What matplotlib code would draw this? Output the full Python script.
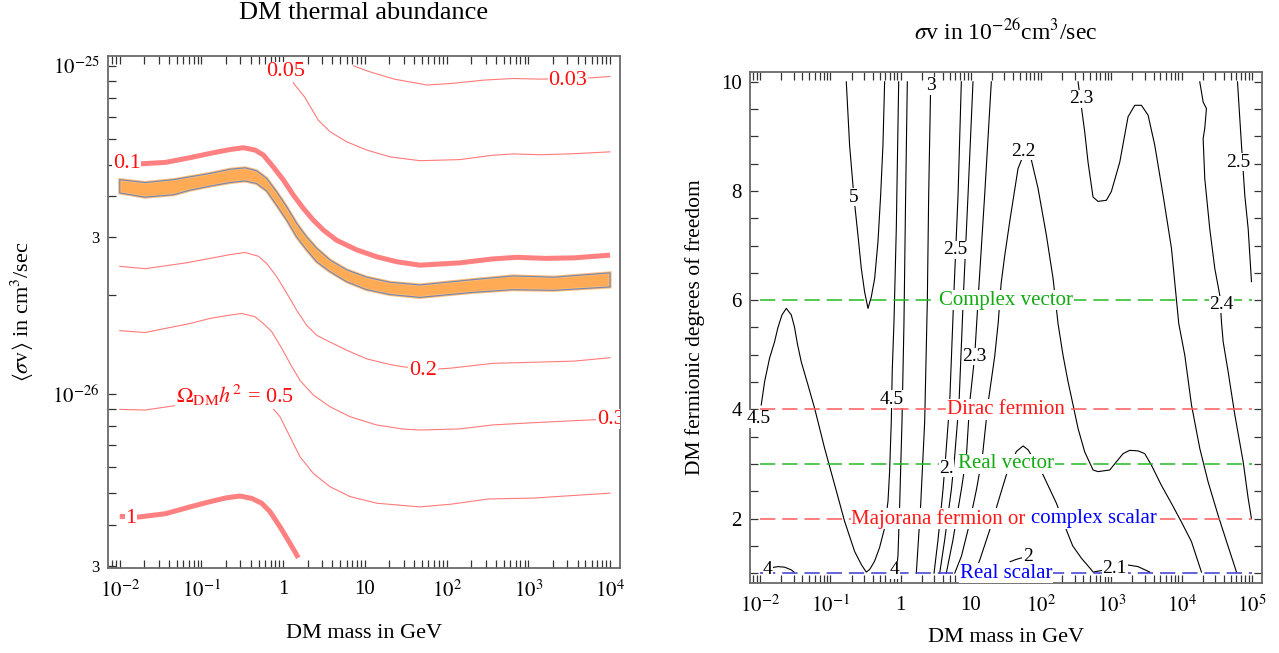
import numpy as np
import matplotlib
matplotlib.use("Agg")
import matplotlib.pyplot as plt
from matplotlib.ticker import FixedLocator, NullFormatter

plt.rcParams['font.family'] = ['Liberation Serif', 'DejaVu Serif']
plt.rcParams['mathtext.fontset'] = 'stix'
plt.rcParams['lines.scale_dashes'] = False

# ---------------- left panel: log10(mass/GeV), <sigma v> in 1e-26 cm^3/s
om003_lm = [0.86, 1.06, 1.36, 1.76, 2.06, 2.46, 2.81, 3.16, 3.76, 4.0]
om003_sv = [10.0, 9.59, 9.11, 8.74, 8.84, 9.05, 9.15, 9.11, 9.19, 9.28]

om005_lm = [0.02, 0.135, 0.26, 0.43, 0.573, 0.777, 1.022, 1.308, 1.674, 2.16, 2.56, 2.81, 3.16, 3.56, 4.0]
om005_sv = [10.0, 8.80, 8.05, 6.83, 6.30, 5.87, 5.54, 5.28, 5.14, 5.18, 5.34, 5.39, 5.36, 5.40, 5.47]

om01_lm = [-2.0, -1.74, -1.44, -1.141, -0.896, -0.651, -0.488, -0.345, -0.243, -0.121, 0.002,
           0.124, 0.246, 0.368, 0.491, 0.655, 0.9, 1.144, 1.389, 1.674, 2.16, 2.56, 2.86,
           3.21, 3.56, 4.0]
om01_sv = [5.03, 5.03, 5.08, 5.25, 5.41, 5.56, 5.63, 5.54, 5.35, 4.92, 4.49,
           4.04, 3.68, 3.39, 3.16, 2.94, 2.75, 2.62, 2.53, 2.47, 2.51, 2.58, 2.61,
           2.59, 2.60, 2.65]

band_lm = [-2.0, -1.69, -1.34, -1.141, -0.896, -0.651, -0.467, -0.325, -0.202, -0.08, 0.043,
           0.165, 0.287, 0.41, 0.573, 0.777, 1.022, 1.308, 1.674, 2.31, 2.81, 3.31, 4.0]
band_hi = [4.50, 4.41, 4.50, 4.59, 4.70, 4.84, 4.89, 4.79, 4.54, 4.13, 3.72,
           3.31, 3.01, 2.78, 2.56, 2.39, 2.27, 2.19, 2.15, 2.23, 2.29, 2.27, 2.34]
band_lo = [4.10, 3.98, 4.05, 4.18, 4.30, 4.41, 4.46, 4.38, 4.16, 3.76, 3.39,
           3.01, 2.75, 2.53, 2.36, 2.20, 2.08, 2.01, 1.97, 2.04, 2.08, 2.07, 2.12]

om02_lm = [-2.0, -1.69, -1.19, -0.896, -0.651, -0.467, -0.304, -0.202, -0.08, 0.043, 0.165,
           0.287, 0.41, 0.573, 0.777, 1.022, 1.308, 1.471, 1.86, 2.06, 2.56, 3.06, 3.56, 4.0]
om02_sv = [2.45, 2.41, 2.51, 2.59, 2.66, 2.70, 2.63, 2.50, 2.28, 2.03, 1.80,
           1.62, 1.51, 1.44, 1.36, 1.28, 1.23, 1.21, 1.19, 1.20, 1.24, 1.25, 1.26, 1.29]

om03_lm = [-2.0, -1.69, -1.141, -0.896, -0.651, -0.508, -0.345, -0.243, -0.141, -0.019, 0.083,
           0.206, 0.369, 0.573, 0.818, 1.144, 1.471, 1.674, 2.16, 2.56, 3.06, 3.76, 4.0]
om03_sv = [1.56, 1.54, 1.64, 1.70, 1.74, 1.76, 1.72, 1.64, 1.55, 1.38, 1.24,
           1.10, 0.993, 0.915, 0.853, 0.805, 0.782, 0.777, 0.783, 0.805, 0.818, 0.834, 0.838]

om05_lm = [-2.0, -1.69, -1.265, -0.5, -0.161, -0.039, 0.083, 0.206, 0.369, 0.573, 0.818,
           1.144, 1.674, 2.06, 2.51, 3.06, 4.0]
om05_sv = [0.898, 0.894, 0.926, 1.0, 0.926, 0.853, 0.741, 0.644, 0.573, 0.522, 0.487,
           0.465, 0.453, 0.462, 0.479, 0.482, 0.499]

om1_lm = [-2.0, -1.765, -1.44, -1.141, -0.896, -0.692, -0.529, -0.386, -0.263, -0.161,
          -0.039, 0.083, 0.185]
om1_sv = [0.424, 0.422, 0.432, 0.453, 0.470, 0.483, 0.489, 0.481, 0.465, 0.438,
          0.394, 0.351, 0.317]

left_labels = [("0.03", 3.485, 9.05), ("0.05", 0.035, 9.59), ("0.1", -1.915, 5.03),
               ("0.2", 1.71, 1.18), ("0.3", 4.01, 0.838), ("1", -1.865, 0.419),
               (r"$\Omega_{\rm DM}h^2$ = 0.5", -0.59, 0.99)]

# ---------------- right panel: log10(mass/GeV), fermionic d.o.f.
c5_lm = [-0.774, -0.727, -0.665, -0.608, -0.56, -0.513, -0.465, -0.418, -0.37, -0.323, -0.285, -0.252, -0.228]
c5_g = [10.0, 8.84, 7.89, 7.19, 6.58, 6.15, 5.85, 6.06, 6.40, 7.07, 7.92, 8.84, 10.0]

c45_lm = [-1.985, -1.937, -1.866, -1.795, -1.747, -1.69, -1.628, -1.557, -1.51, -1.47, -1.415, -1.32,
          -1.225, -1.083, -0.94, -0.798, -0.656, -0.561, -0.49, -0.44, -0.371, -0.3, -0.228,
          -0.18, -0.157, -0.133, -0.12, -0.095, -0.062, -0.028]
c45_g = [4.08, 4.51, 4.94, 5.24, 5.50, 5.73, 5.85, 5.73, 5.50, 5.20, 4.87, 4.45,
         4.02, 3.29, 2.62, 1.95, 1.40, 1.16, 1.02, 1.07, 1.22, 1.47, 1.83,
         2.32, 2.87, 3.79, 4.70, 5.60, 7.31, 10.0]

c4a_lm = [0.095, 0.071, 0.047, 0.019, -0.014, -0.038, -0.06]
c4a_g = [10.0, 7.92, 5.57, 3.77, 2.25, 1.33, 1.0]

c4b_lm = [-1.89, -1.842, -1.747, -1.652, -1.557, -1.519]
c4b_g = [1.08, 1.10, 1.12, 1.11, 1.06, 1.02]

c3_lm = [0.428, 0.399, 0.38, 0.342, 0.285, 0.223]
c3_g = [10.0, 7.92, 6.0, 3.77, 2.25, 1.0]

c25a_lm = [0.864, 0.817, 0.76, 0.698, 0.641, 0.603, 0.532, 0.475]
c25a_g = [10.0, 7.92, 6.19, 4.12, 3.14, 2.53, 1.61, 1.0]

c24a_lm = [1.03, 0.959, 0.897, 0.831, 0.769, 0.722, 0.627, 0.556]
c24a_g = [10.0, 7.92, 6.19, 4.12, 3.14, 2.53, 1.61, 1.0]

c23a_lm = [1.291, 1.196, 1.111, 1.054, 0.983, 0.936, 0.864, 0.745, 0.65]
c23a_g = [10.0, 7.92, 6.19, 4.97, 4.12, 3.14, 2.53, 1.61, 1.0]

c22_lm = [0.77, 0.865, 0.96, 1.079, 1.164, 1.245, 1.339, 1.39, 1.43, 1.48, 1.56, 1.671, 1.73,
          1.766, 1.861, 1.956, 2.075, 2.17, 2.241, 2.312, 2.383, 2.455, 2.526, 2.621, 2.74,
          2.81, 2.977, 3.072, 3.167, 3.262, 3.38, 3.475, 3.57, 3.712, 3.855, 3.997, 4.14, 4.283]
c22_g = [1.0, 1.31, 1.80, 2.53, 3.14, 4.12, 4.97, 5.6, 6.3, 6.8, 7.5, 8.41, 8.6,
         8.63, 8.57, 8.05, 7.19, 6.40, 5.57, 4.99, 4.51, 4.08, 3.65, 3.22, 2.89,
         2.86, 2.89, 3.04, 3.19, 3.25, 3.24, 3.19, 2.98, 2.61, 2.28, 1.94, 1.58, 1.02]

c23b_lm = [2.526, 2.621, 2.668, 2.739, 2.81, 2.929, 3.0, 3.12, 3.238, 3.333, 3.428, 3.523, 3.618,
           3.737, 3.856, 3.96, 4.046, 4.141, 4.26, 4.378, 4.52, 4.64, 4.782]
c23b_g = [10.0, 9.08, 8.53, 7.89, 7.81, 7.83, 7.99, 8.53, 9.36, 9.57, 9.57, 9.39, 8.84,
          7.92, 6.95, 5.57, 4.99, 4.08, 3.28, 2.67, 2.06, 1.58, 1.02]

c24b_lm = [4.259, 4.307, 4.354, 4.33, 4.307, 4.33, 4.401, 4.473, 4.544, 4.568, 4.592, 4.663,
           4.758, 4.877, 4.948, 4.995]
c24b_g = [10.0, 9.63, 9.51, 9.15, 8.96, 8.23, 7.31, 6.58, 6.09, 5.6, 5.24, 4.69,
          3.90, 3.04, 2.37, 2.0]

c25b_lm = [4.796, 4.853, 4.9, 4.948, 4.995]
c25b_g = [10.0, 8.84, 7.92, 7.31, 6.34]

c21_lm = [1.054, 1.126, 1.268, 1.41, 1.505, 1.648, 1.743, 1.814, 2.028, 2.218, 2.36, 2.45,
          2.576, 2.717, 2.74, 2.906, 3.05, 3.238, 3.38, 3.547]
c21_g = [1.0, 1.24, 1.79, 2.40, 2.80, 3.23, 3.33, 3.26, 2.80, 2.28, 1.79, 1.50,
         1.27, 1.06, 1.02, 1.06, 1.09, 1.15, 1.12, 1.02]

c2_lm = [1.56, 1.64, 1.72]
c2_g = [1.21, 1.25, 1.28]

right_contours = [(c5_lm, c5_g), (c45_lm, c45_g), (c4a_lm, c4a_g), (c4b_lm, c4b_g),
                  (c3_lm, c3_g), (c25a_lm, c25a_g), (c24a_lm, c24a_g), (c23a_lm, c23a_g),
                  (c22_lm, c22_g), (c23b_lm, c23b_g), (c24b_lm, c24b_g), (c25b_lm, c25b_g),
                  (c21_lm, c21_g), (c2_lm, c2_g)]

right_labels = [("5", -0.665, 7.89), ("4.5", -2.02, 3.83), ("4.5", -0.133, 4.19),
                ("4", -0.085, 1.06), ("4", -1.89, 1.06), ("3", 0.428, 9.93),
                ("2.5", 0.783, 6.92), ("2.", 0.655, 2.92), ("2.3", 1.054, 4.97),
                ("2.2", 1.743, 8.73), ("2.3", 2.574, 9.69), ("2.5", 4.806, 8.53),
                ("2.4", 4.568, 5.92), ("2.1", 3.05, 1.09), ("2", 1.81, 1.31)]

dof_values = [6, 4, 3, 2, 1]
dof_names = ["Complex vector", "Dirac fermion", "Real vector", "Majorana fermion or ", "Real scalar"]
dof_line_colors = ["#22bb22", "#ff5a5a", "#22bb22", "#ff5a5a", "#3a3ad0"]
dof_text_colors = ["#11aa11", "#ff1a1a", "#11aa11", "#ff1a1a", "#0000ff"]

# ---------------- figure
fig = plt.figure(figsize=(12.79, 6.53), dpi=100)
ax1 = fig.add_axes([108 / 1279, 1 - 568 / 653, 512 / 1279, 512 / 653])
ax2 = fig.add_axes([750 / 1279, 1 - 583 / 653, 512 / 1279, 511 / 653])

frame_col = "#6a6a6a"
thin_red = "#ff7a7a"
thick_red = "#ff8080"

def m(lm):
    return 10 ** np.asarray(lm)

def sv(v):
    return np.asarray(v) * 1e-26

# left panel
for lm, v in [(om003_lm, om003_sv), (om005_lm, om005_sv), (om02_lm, om02_sv),
              (om03_lm, om03_sv), (om05_lm, om05_sv)]:
    ax1.plot(m(lm), sv(v), color=thin_red, lw=0.8, zorder=2)
for lm, v in [(om01_lm, om01_sv), (om1_lm, om1_sv)]:
    ax1.plot(m(lm), sv(v), color=thick_red, lw=3.6, solid_capstyle="butt",
             solid_joinstyle="round", zorder=2)

bx = np.concatenate([m(band_lm), m(band_lm)[::-1]])
by = np.concatenate([sv(band_hi), sv(band_lo)[::-1]])
ax1.fill(bx, by, facecolor="#ffaa55", edgecolor="#ffb870", lw=2.2, zorder=3)
ax1.fill(bx, by, facecolor="none", edgecolor="#6f88b8", lw=0.8, zorder=4)

for txt, lm, v in left_labels:
    t = ax1.text(10 ** lm, v * 1e-26, txt, color="#ff1010", fontsize=16, ha="center",
                 va="center", zorder=6,
                 bbox=dict(facecolor="white", edgecolor="none", pad=0.5))
    if txt == "0.3":
        t.set_clip_on(True)

ax1.set_xscale("log")
ax1.set_yscale("log")
ax1.set_xlim(10 ** -2.144, 10 ** 4.122)
ax1.set_ylim(10 ** -26.53, 10 ** -24.97)

x_major = [1e-2, 1e-1, 1, 10, 1e2, 1e3, 1e4]
x_major_lbl = [r"$10^{-2}$", r"$10^{-1}$", "1", "10", r"$10^{2}$", r"$10^{3}$", r"$10^{4}$"]
ax1.xaxis.set_major_locator(FixedLocator(x_major))
ax1.set_xticklabels(x_major_lbl)
x_minor = [k * 10.0 ** e for e in range(-3, 5) for k in range(2, 10)]
ax1.xaxis.set_minor_locator(FixedLocator(x_minor))
ax1.xaxis.set_minor_formatter(NullFormatter())

y_major = [1e-25, 3e-26, 1e-26, 3e-27]
y_major_lbl = [r"$10^{-25}$", "3", r"$10^{-26}$", "3"]
ax1.yaxis.set_major_locator(FixedLocator(y_major))
ax1.set_yticklabels(y_major_lbl)
y_minor = [k * 10.0 ** e for e in (-27, -26) for k in (2, 4, 5, 6, 7, 8, 9)]
ax1.yaxis.set_minor_locator(FixedLocator(y_minor))
ax1.yaxis.set_minor_formatter(NullFormatter())

ax1.tick_params(axis="x", which="both", direction="in", top=True, bottom=True,
                color="#333333", width=0.9, labelsize=15, pad=9)
ax1.tick_params(axis="y", which="both", direction="in", left=True, right=False,
                color="#333333", width=0.9, labelsize=15, pad=6)
ax1.tick_params(which="both", length=6)
for lbl in ax1.get_yticklabels():
    if lbl.get_text() == "3":
        lbl.set_fontsize(12)
for sp in ax1.spines.values():
    sp.set_color(frame_col)
    sp.set_linewidth(1.3)

fig.text(364 / 1279, 1 - 13 / 653, "DM thermal abundance", fontsize=19, ha="center", va="center")
fig.text(364 / 1279, 1 - 634 / 653, "DM mass in GeV", fontsize=16, ha="center", va="center")
fig.text(22 / 1279, 1 - 312 / 653, r"$\langle\sigma{\rm v}\rangle$ in cm$^3$/sec", fontsize=16,
         ha="center", va="center", rotation=90)

# right panel
for lm, g in right_contours:
    ax2.plot(m(lm), g, color="black", lw=0.8, zorder=2)
for txt, lm, g in right_labels:
    ax2.text(10 ** lm, g, txt, color="black", fontsize=14, ha="center", va="center", zorder=4,
             bbox=dict(facecolor="white", edgecolor="none", pad=0.3))

for g, name, lc, tc in zip(dof_values, dof_names, dof_line_colors, dof_text_colors):
    ax2.plot([1e-2, 1e5], [g, g], color=lc, lw=1.1, dashes=(11, 5), zorder=3)
    if g == 2:
        ax2.text(10 ** 1.855, g, name, color=tc, fontsize=15, ha="right", va="center", zorder=7,
                 bbox=dict(facecolor="white", edgecolor="none", pad=0.5))
        ax2.text(10 ** 1.855, g, "complex scalar", color="#0000ff", fontsize=15, ha="left",
                 va="center", zorder=7, bbox=dict(facecolor="white", edgecolor="none", pad=0.5))
    else:
        ax2.text(10 ** 1.5, g, name, color=tc, fontsize=15, ha="center", va="center", zorder=7,
                 bbox=dict(facecolor="white", edgecolor="none", pad=0.5))

ax2.set_xscale("log")
ax2.set_xlim(10 ** -2.145, 10 ** 5.145)
ax2.set_ylim(0.82, 10.18)

x2_major = [1e-2, 1e-1, 1, 10, 1e2, 1e3, 1e4, 1e5]
x2_major_lbl = [r"$10^{-2}$", r"$10^{-1}$", "1", "10", r"$10^{2}$", r"$10^{3}$", r"$10^{4}$", r"$10^{5}$"]
ax2.xaxis.set_major_locator(FixedLocator(x2_major))
ax2.set_xticklabels(x2_major_lbl)
x2_minor = [k * 10.0 ** e for e in range(-3, 6) for k in range(2, 10)]
ax2.xaxis.set_minor_locator(FixedLocator(x2_minor))
ax2.xaxis.set_minor_formatter(NullFormatter())
ax2.yaxis.set_major_locator(FixedLocator([2, 4, 6, 8, 10]))
ax2.yaxis.set_minor_locator(FixedLocator(list(np.arange(1, 10.01, 0.5))))
ax2.yaxis.set_minor_formatter(NullFormatter())
ax2.tick_params(axis="x", which="both", direction="in", top=True, bottom=True,
                color="#333333", width=0.9, labelsize=15, pad=9)
ax2.tick_params(axis="y", which="both", direction="in", left=True, right=True,
                color="#333333", width=0.9, labelsize=15, pad=6)
ax2.tick_params(which="both", length=6)
for sp in ax2.spines.values():
    sp.set_color(frame_col)
    sp.set_linewidth(1.3)

fig.text(1006 / 1279, 1 - 32 / 653, r"$\sigma$v in 10$^{-26}$cm$^3$/sec", fontsize=17,
         ha="center", va="center")
fig.text(1006 / 1279, 1 - 638 / 653, "DM mass in GeV", fontsize=16, ha="center", va="center")
fig.text(695 / 1279, 1 - 327 / 653, "DM fermionic degrees of freedom", fontsize=15.5,
         ha="center", va="center", rotation=90)

fig.savefig("out.png", dpi=100)
print("saved: out.png")
